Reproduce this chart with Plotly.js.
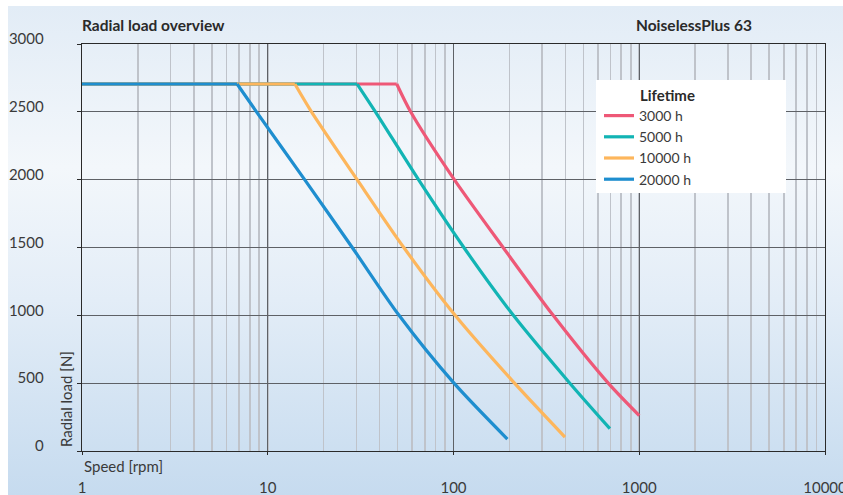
<!DOCTYPE html>
<html>
<head>
<meta charset="utf-8">
<script src="https://cdn.plot.ly/plotly-3.0.1.min.js"></script>
<style>
  html, body { margin: 0; padding: 0; background: #ffffff; }
  #wrap { position: absolute; left: 0; top: 0; width: 843px; height: 495px; background: #ffffff; overflow: hidden; }
  #bg { position: absolute; left: 8px; top: 6px; width: 835px; height: 489px;
        background: linear-gradient(to bottom, #e2ecf6 0%, #f3f7fb 33%, #e3edf7 60%, #c6dbef 100%); }
  #chart { position: absolute; left: 0; top: 0; width: 843px; height: 495px; }
</style>
</head>
<body>
<div id="wrap"><div id="bg"></div><div id="chart"></div></div>
<script>
// Series names (legend)
const seriesNames = ["3000 h", "5000 h", "10000 h", "20000 h"];
const seriesColors = ["#ee5877", "#12b4b4", "#fdb65c", "#1e8ecf"];

// Speed [rpm] and radial load [N]
// constant (capped) part of each curve
const flatSpeed3000 = [1, 49.5];
const flatSpeed5000 = [1, 30.3];
const flatSpeed10000 = [1, 14];
const flatSpeed20000 = [1, 6.84];
const flatLoad = [2705, 2705];

// decreasing part of each curve
const speed3000 = [49.5, 58.8, 101, 185, 344, 681, 1000];
const load3000  = [2705, 2500, 2000, 1500, 1000, 500, 261];

const speed5000 = [30.3, 38, 64.8, 113.7, 210, 423, 695];
const load5000  = [2705, 2500, 2000, 1500, 1000, 500, 165];

const speed10000 = [14, 17.2, 30.3, 54, 102, 213, 398];
const load10000  = [2705, 2500, 2000, 1500, 1000, 500, 103];

const speed20000 = [6.84, 8.7, 15.8, 28.5, 50.9, 100.6, 195];
const load20000  = [2705, 2500, 2000, 1500, 1000, 500, 88];

const xTickVals = [1, 10, 100, 1000, 10000];
const xTickText = ["1", "10", "100", "1000", "10000"];
const yTickVals = [0, 500, 1000, 1500, 2000, 2500, 3000];

const flatSpeeds = [flatSpeed3000, flatSpeed5000, flatSpeed10000, flatSpeed20000];
const speeds = [speed3000, speed5000, speed10000, speed20000];
const loads = [load3000, load5000, load10000, load20000];

const FONT = "Lato, 'Open Sans', sans-serif";

const flatTraces = seriesNames.map((name, i) => ({
  type: "scatter",
  mode: "lines",
  name: name,
  legendgroup: name,
  showlegend: false,
  x: flatSpeeds[i],
  y: flatLoad,
  line: { color: seriesColors[i], width: 3.2 },
  hoverinfo: "x+y+name"
}));

const curveTraces = seriesNames.map((name, i) => ({
  type: "scatter",
  mode: "lines",
  name: name,
  legendgroup: name,
  x: speeds[i],
  y: loads[i],
  line: { color: seriesColors[i], width: 3.2, shape: "spline", smoothing: 0.8 },
  hoverinfo: "x+y+name"
}));

const L = 82, R = 825, T = 44, B = 451;
const pw = R - L, ph = B - T;
const px = v => (v - L) / pw;
const py = v => (B - v) / ph;

const layout = {
  width: 843,
  height: 495,
  margin: { l: L, r: 843 - R, t: T, b: 495 - B, pad: 0 },
  paper_bgcolor: "rgba(0,0,0,0)",
  plot_bgcolor: "rgba(0,0,0,0)",
  font: { family: FONT, size: 15, color: "#3a3a3a" },
  showlegend: true,
  legend: {
    x: px(599), y: py(100), xanchor: "left", yanchor: "top",
    bgcolor: "rgba(0,0,0,0)", borderwidth: 0,
    font: { family: FONT, size: 14, color: "#3a3a3a" },
    tracegroupgap: 0
  },
  xaxis: {
    type: "log",
    range: [0, 4.00002],
    tickmode: "array",
    tickvals: xTickVals,
    ticktext: xTickText,
    showgrid: true,
    gridcolor: "#5e6166",
    gridwidth: 1.3,
    showline: true,
    linecolor: "#2a2a2a",
    linewidth: 1.3,
    mirror: true,
    ticks: "outside",
    ticklen: 3,
    tickcolor: "#2a2a2a",
    ticklabelstandoff: 20,
    ticklabeloverflow: "allow",
    tickfont: { family: FONT, size: 15, color: "#3a3a3a" },
    zeroline: false,
    minor: { dtick: "D1", showgrid: true, gridcolor: "#bfc3ca", gridwidth: 1.6, ticks: "" }
  },
  yaxis: {
    range: [0, 3000],
    tickmode: "array",
    tickvals: yTickVals,
    showgrid: true,
    gridcolor: "#5e6166",
    gridwidth: 1.3,
    showline: true,
    linecolor: "#2a2a2a",
    linewidth: 1.3,
    mirror: true,
    ticks: "outside",
    ticklen: 4,
    tickcolor: "#2a2a2a",
    ticklabelstandoff: 30,
    ticklabelshift: -5,
    tickfont: { family: FONT, size: 15, color: "#3a3a3a" },
    zeroline: false
  },
  shapes: [
    { type: "rect", xref: "paper", yref: "paper",
      x0: px(596), x1: px(786), y0: py(193), y1: py(80),
      fillcolor: "#ffffff", line: { width: 0 }, layer: "above" }
  ],
  annotations: [
    { text: "<b>Radial load overview</b>", xref: "paper", yref: "paper",
      x: px(80), y: py(25), xanchor: "left", yanchor: "middle", showarrow: false,
      font: { family: FONT, size: 15.5, color: "#2a2a2a" } },
    { text: "<b>NoiselessPlus 63</b>", xref: "paper", yref: "paper",
      x: px(754), y: py(25), xanchor: "right", yanchor: "middle", showarrow: false,
      font: { family: FONT, size: 15.5, color: "#2a2a2a" } },
    { text: "<b>Lifetime</b>", xref: "paper", yref: "paper",
      x: px(638), y: py(95), xanchor: "left", yanchor: "middle", showarrow: false,
      font: { family: FONT, size: 15, color: "#2a2a2a" } },
    { text: "Speed [rpm]", xref: "paper", yref: "paper",
      x: px(82), y: py(466), xanchor: "left", yanchor: "middle", showarrow: false,
      font: { family: FONT, size: 15, color: "#3a3a3a" } },
    { text: "Radial load [N]", xref: "paper", yref: "paper", textangle: -90,
      x: px(66), y: py(449), xanchor: "center", yanchor: "bottom", showarrow: false,
      font: { family: FONT, size: 15, color: "#3a3a3a" } }
  ]
};

Plotly.newPlot("chart", flatTraces.concat(curveTraces), layout, { displayModeBar: false, staticPlot: true });
</script>
</body>
</html>
